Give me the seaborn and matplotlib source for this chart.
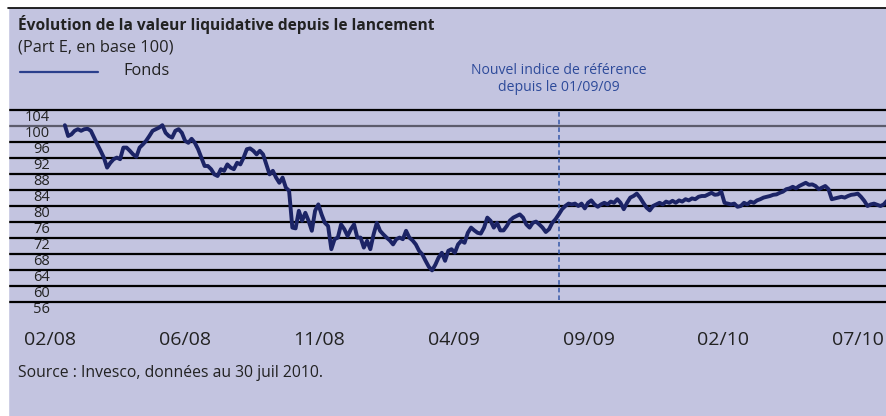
import numpy as np
import pandas as pd
import matplotlib
matplotlib.use("Agg")
import matplotlib.pyplot as plt
import seaborn as sns
from matplotlib.lines import Line2D
from matplotlib.patches import Rectangle

# valeur liquidative (base 100), par tronçons
nav_feb_jul08 = [100.2, 97.5, 97.9, 98.8, 99.2, 98.8, 99.2, 99.3, 98.8, 97.1,
                 95.4, 93.8, 92.1, 89.6, 90.8, 91.7, 92.1, 91.7, 94.6, 94.6,
                 93.8, 92.9, 92.3, 94.6, 95.4, 96.3, 97.5, 98.8, 99.2, 99.6,
                 100.2, 98.3, 97.5, 97.1, 98.8, 99.2, 98.3, 96.3, 95.8, 96.8,
                 95.8, 94.2, 92.1, 90.0, 90.0, 89.2, 87.9, 87.5, 89.2]
nav_jul_dec08 = [88.8, 90.4, 89.6, 89.2, 90.8, 90.4, 92.1, 94.2, 94.4, 93.8,
                 92.9, 93.8, 92.9, 90.4, 87.9, 88.8, 87.1, 85.8, 87.1, 84.6,
                 83.8, 74.6, 74.4, 78.8, 76.3, 78.3, 76.3, 73.8, 78.8, 80.4,
                 77.9, 75.8, 75.0, 69.2, 71.7, 72.1, 75.4, 74.2, 72.5, 74.2,
                 75.4, 72.1, 72.1, 69.6, 71.3, 69.2, 72.9, 75.8, 73.8, 72.9]
nav_dec08_aug09 = [72.1, 71.4, 70.4, 71.7, 72.1, 71.7, 73.8, 72.1, 71.4, 70.4,
                   68.8, 67.9, 66.3, 64.8, 63.9, 65.3, 67.1, 68.3, 66.3, 68.8,
                   69.2, 68.3, 70.4, 71.3, 70.8, 73.3, 74.6, 73.9, 73.3, 73.1,
                   74.6, 77.1, 76.3, 74.6, 75.8, 73.9, 73.9, 75.0, 76.4, 77.1,
                   77.5, 77.9, 77.1, 75.4, 74.6, 75.8, 76.1, 75.4, 74.6]
nav_aug09_jan10 = [73.5, 74.2, 75.8, 76.7, 77.9, 79.2, 80.0, 80.6, 80.4, 80.6,
                   80.0, 80.6, 79.4, 80.8, 81.4, 80.4, 79.8, 80.4, 80.8, 80.4,
                   81.1, 80.8, 81.7, 80.8, 79.2, 80.8, 82.1, 82.5, 83.1, 82.1,
                   80.8, 79.6, 78.9, 80.0, 80.4, 80.8, 80.4, 81.1, 80.8, 81.3,
                   80.8, 81.4, 81.1, 81.7, 81.4, 81.9, 81.7, 82.3, 82.5]
nav_jan_jul10 = [82.5, 82.9, 83.3, 82.8, 82.9, 83.6, 80.8, 80.6, 80.4, 80.6,
                 79.8, 80.0, 80.8, 80.4, 81.1, 80.8, 81.4, 81.7, 82.1, 82.3,
                 82.5, 82.8, 82.9, 83.3, 83.6, 84.2, 84.4, 84.8, 84.4, 85.0,
                 85.4, 85.8, 85.3, 85.4, 85.0, 84.2, 84.6, 85.0, 84.2, 81.7,
                 81.9, 82.1, 82.3, 82.1, 82.5, 82.8, 82.9, 83.1, 82.3, 81.3,
                 80.0, 80.4, 80.6, 80.3, 80.0, 80.4, 81.3]

y_ticks = list(range(56, 105, 4))
x_labels = ["02/08", "06/08", "11/08", "04/09", "09/09", "02/10", "07/10"]
new_benchmark_obs = 152  # observation du 01/09/09

nav = nav_feb_jul08 + nav_jul_dec08 + nav_dec08_aug09 + nav_aug09_jan10 + nav_jan_jul10
df = pd.DataFrame({"obs": np.arange(len(nav)), "nav": nav})

bg = "#c3c4e0"
navy = "#1c2466"
blue = "#2d4a9a"
txt = "#222222"

sns.set_theme(style="white")
plt.rcParams["font.family"] = ["Open Sans", "DejaVu Sans"]

W, H = 887, 416
fig = plt.figure(figsize=(W / 100, H / 100), dpi=100)
fig.patch.set_facecolor(bg)
ax = fig.add_axes([8 / W, 1 - 306 / H, 879 / W, 200 / H])
ax.set_facecolor(bg)

for v in y_ticks:
    ax.axhline(v, color="#5c5c6c" if v == 100 else "black", lw=1.6, zorder=1)

ax.vlines(new_benchmark_obs, 56.4, 104, colors="#3558a8", linestyles=(0, (3, 2)),
          lw=1.1, zorder=2)

sns.lineplot(data=df, x="obs", y="nav", color=navy, lw=2.8, ax=ax, zorder=3)

ax.set_xlim(-17.5, len(nav) - 1)
ax.set_ylim(55, 105)
ax.set_xticks(np.linspace(-4.6, 244, len(x_labels)))
ax.set_xticklabels(x_labels)
ax.set_yticks(y_ticks)
ax.set_yticklabels([str(v) for v in y_ticks], va="top", ha="right")
ax.tick_params(axis="y", length=0, pad=-30, labelsize=10.5, labelcolor=txt)
ax.tick_params(axis="x", length=0, pad=18, labelsize=14, labelcolor=txt)
ax.set_xlabel("")
ax.set_ylabel("")
for s in ax.spines.values():
    s.set_visible(False)

ax.text(new_benchmark_obs, 111.7, "Nouvel indice de référence\ndepuis le 01/09/09",
        ha="center", va="center", color=blue, fontsize=10.1, linespacing=1.2,
        clip_on=False)

fig.text(18 / W, 1 - 24 / H, "Évolution de la valeur liquidative depuis le lancement",
         fontsize=11.2, fontweight="bold", color=txt, va="center")
fig.text(18 / W, 1 - 47 / H, "(Part E, en base 100)", fontsize=11.8, color=txt, va="center")
fig.add_artist(Line2D([20 / W, 98 / W], [1 - 72 / H] * 2, color="#2a3f8c", lw=1.6))
fig.text(123 / W, 1 - 71 / H, "Fonds", fontsize=11.8, color=txt, va="center")
fig.text(18 / W, 1 - 373 / H, "Source : Invesco, données au 30 juil 2010.",
         fontsize=11.3, color=txt, va="center")

fig.add_artist(Rectangle((0, 0), 8 / W, 1, color="white", zorder=5))
fig.add_artist(Rectangle((0, 1 - 7 / H), 1, 7 / H, color="white", zorder=5))
fig.add_artist(Line2D([8 / W, 1], [1 - 7.5 / H] * 2, color="black", lw=1.2, zorder=6))

fig.savefig("out.png", dpi=100, facecolor=fig.get_facecolor())
